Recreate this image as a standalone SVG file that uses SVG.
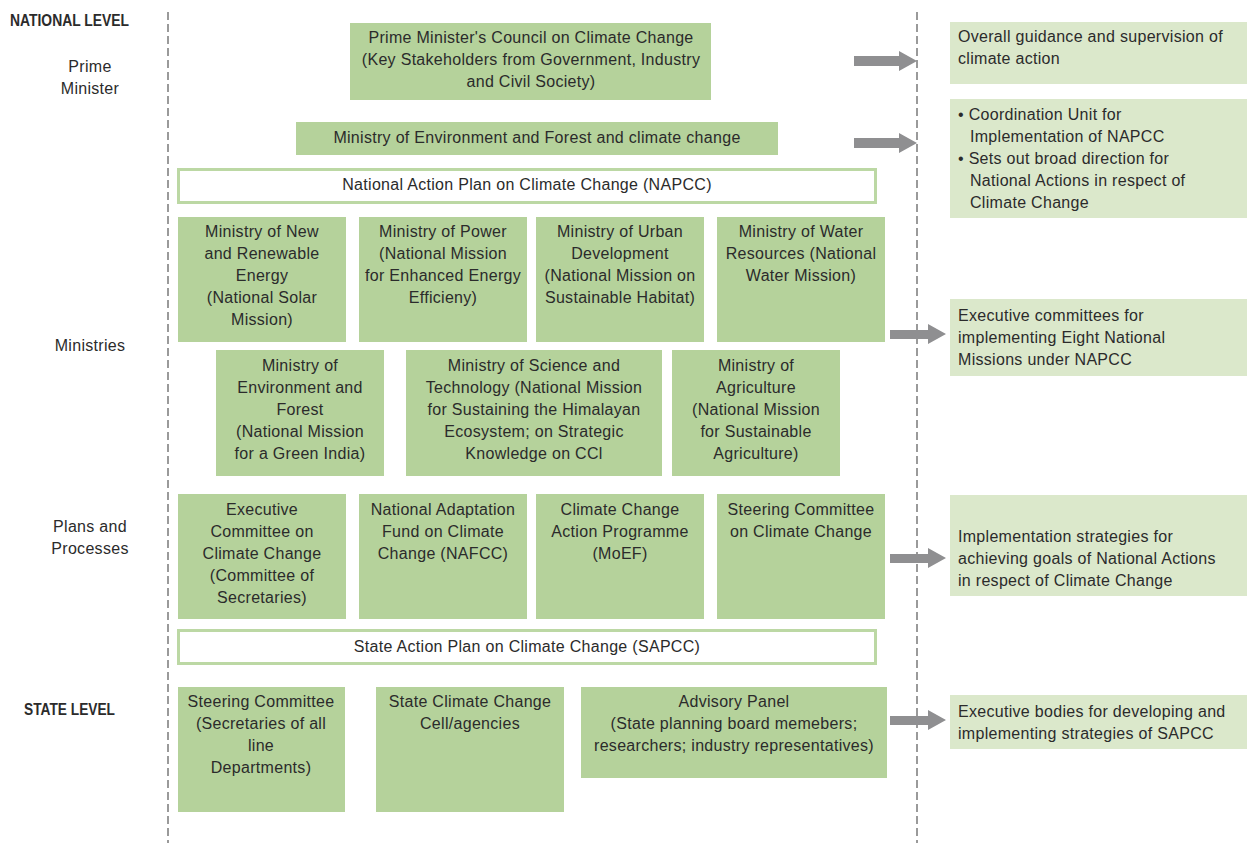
<svg xmlns="http://www.w3.org/2000/svg" width="1247" height="843" viewBox="0 0 1247 843">
<style>
.t{font-family:"Liberation Sans",Arial,sans-serif;font-size:16px;letter-spacing:0.3px;fill:#2b2b2b}
.c{text-anchor:middle}
.h{font-family:"Liberation Sans",Arial,sans-serif;font-size:16px;font-weight:bold;fill:#2b2b2b}
.dk{fill:#b5d29b}
.lt{fill:#dbe8cb}
.wb{fill:#ffffff;stroke:#bcd8a4;stroke-width:3}
.dash{stroke:#9a9a9a;stroke-width:2;stroke-dasharray:8 4;fill:none}
.ar{fill:#8f8f91}
</style>
<rect width="1247" height="843" fill="#ffffff"/>
<g id="guides">
<line class="dash" x1="168" y1="12" x2="168" y2="843"/>
<line class="dash" x1="917" y1="12" x2="917" y2="843"/>
</g>
<g id="labels">
<text class="h" x="10" y="26" textLength="119" lengthAdjust="spacingAndGlyphs">NATIONAL LEVEL</text>
<text class="t c" x="90" y="72">Prime</text>
<text class="t c" x="90" y="94">Minister</text>
<text class="t c" x="90" y="351">Ministries</text>
<text class="t c" x="90" y="532">Plans and</text>
<text class="t c" x="90" y="554">Processes</text>
<text class="h" x="24" y="715" textLength="91" lengthAdjust="spacingAndGlyphs">STATE LEVEL</text>
</g>
<g id="pmcc">
<rect class="dk" x="350" y="23" width="361" height="77"/>
<text class="t c" x="531" y="43">Prime Minister's Council on Climate Change</text>
<text class="t c" x="531" y="65">(Key Stakeholders from Government, Industry</text>
<text class="t c" x="531" y="87">and Civil Society)</text>
</g>
<g id="moefcc">
<rect class="dk" x="296" y="122" width="482" height="33"/>
<text class="t c" x="537" y="143">Ministry of Environment and Forest and climate change</text>
</g>
<g id="napcc">
<rect class="wb" x="178.5" y="169.5" width="697" height="33"/>
<text class="t c" x="527" y="190">National Action Plan on Climate Change (NAPCC)</text>
</g>
<g id="mnre">
<rect class="dk" x="178" y="217" width="168" height="125"/>
<text class="t c" x="262" y="237">Ministry of New</text>
<text class="t c" x="262" y="259">and Renewable</text>
<text class="t c" x="262" y="281">Energy</text>
<text class="t c" x="262" y="303">(National Solar</text>
<text class="t c" x="262" y="325">Mission)</text>
</g>
<g id="power">
<rect class="dk" x="359" y="217" width="168" height="125"/>
<text class="t c" x="443" y="237">Ministry of Power</text>
<text class="t c" x="443" y="259">(National Mission</text>
<text class="t c" x="443" y="281">for Enhanced Energy</text>
<text class="t c" x="443" y="303">Efficieny)</text>
</g>
<g id="urban">
<rect class="dk" x="536" y="217" width="168" height="125"/>
<text class="t c" x="620" y="237">Ministry of Urban</text>
<text class="t c" x="620" y="259">Development</text>
<text class="t c" x="620" y="281">(National Mission on</text>
<text class="t c" x="620" y="303">Sustainable Habitat)</text>
</g>
<g id="water">
<rect class="dk" x="717" y="217" width="168" height="125"/>
<text class="t c" x="801" y="237">Ministry of Water</text>
<text class="t c" x="801" y="259">Resources (National</text>
<text class="t c" x="801" y="281">Water Mission)</text>
</g>
<g id="moef">
<rect class="dk" x="216" y="350" width="168" height="126"/>
<text class="t c" x="300" y="371">Ministry of</text>
<text class="t c" x="300" y="393">Environment and</text>
<text class="t c" x="300" y="415">Forest</text>
<text class="t c" x="300" y="437">(National Mission</text>
<text class="t c" x="300" y="459">for a Green India)</text>
</g>
<g id="science">
<rect class="dk" x="406" y="350" width="256" height="126"/>
<text class="t c" x="534" y="371">Ministry of Science and</text>
<text class="t c" x="534" y="393">Technology (National Mission</text>
<text class="t c" x="534" y="415">for Sustaining the Himalayan</text>
<text class="t c" x="534" y="437">Ecosystem; on Strategic</text>
<text class="t c" x="534" y="459">Knowledge on CCl</text>
</g>
<g id="agri">
<rect class="dk" x="672" y="350" width="168" height="126"/>
<text class="t c" x="756" y="371">Ministry of</text>
<text class="t c" x="756" y="393">Agriculture</text>
<text class="t c" x="756" y="415">(National Mission</text>
<text class="t c" x="756" y="437">for Sustainable</text>
<text class="t c" x="756" y="459">Agriculture)</text>
</g>
<g id="ecc">
<rect class="dk" x="178" y="494" width="168" height="125"/>
<text class="t c" x="262" y="515">Executive</text>
<text class="t c" x="262" y="537">Committee on</text>
<text class="t c" x="262" y="559">Climate Change</text>
<text class="t c" x="262" y="581">(Committee of</text>
<text class="t c" x="262" y="603">Secretaries)</text>
</g>
<g id="nafcc">
<rect class="dk" x="359" y="494" width="168" height="125"/>
<text class="t c" x="443" y="515">National Adaptation</text>
<text class="t c" x="443" y="537">Fund on Climate</text>
<text class="t c" x="443" y="559">Change (NAFCC)</text>
</g>
<g id="ccap">
<rect class="dk" x="536" y="494" width="168" height="125"/>
<text class="t c" x="620" y="515">Climate Change</text>
<text class="t c" x="620" y="537">Action Programme</text>
<text class="t c" x="620" y="559">(MoEF)</text>
</g>
<g id="scc">
<rect class="dk" x="717" y="494" width="168" height="125"/>
<text class="t c" x="801" y="515">Steering Committee</text>
<text class="t c" x="801" y="537">on Climate Change</text>
</g>
<g id="sapcc">
<rect class="wb" x="178.5" y="630.5" width="697" height="33"/>
<text class="t c" x="527" y="652">State Action Plan on Climate Change (SAPCC)</text>
</g>
<g id="state-steering">
<rect class="dk" x="178" y="687" width="167" height="125"/>
<text class="t c" x="261" y="707">Steering Committee</text>
<text class="t c" x="261" y="729">(Secretaries of all</text>
<text class="t c" x="261" y="751">line</text>
<text class="t c" x="261" y="773">Departments)</text>
</g>
<g id="sccc">
<rect class="dk" x="376" y="687" width="188" height="125"/>
<text class="t c" x="470" y="707">State Climate Change</text>
<text class="t c" x="470" y="729">Cell/agencies</text>
</g>
<g id="advisory">
<rect class="dk" x="581" y="687" width="306" height="91"/>
<text class="t c" x="734" y="707">Advisory Panel</text>
<text class="t c" x="734" y="729">(State planning board memebers;</text>
<text class="t c" x="734" y="751">researchers; industry representatives)</text>
</g>
<g id="r1">
<rect class="lt" x="950" y="22" width="297" height="62"/>
<text class="t" x="958" y="42">Overall guidance and supervision of</text>
<text class="t" x="958" y="64">climate action</text>
</g>
<g id="r2">
<rect class="lt" x="950" y="99" width="297" height="119"/>
<text class="t" x="958" y="120">• Coordination Unit for</text>
<text class="t" x="970" y="142">Implementation of NAPCC</text>
<text class="t" x="958" y="164">• Sets out broad direction for</text>
<text class="t" x="970" y="186">National Actions in respect of</text>
<text class="t" x="970" y="208">Climate Change</text>
</g>
<g id="r3">
<rect class="lt" x="950" y="299" width="297" height="77"/>
<text class="t" x="958" y="321">Executive committees for</text>
<text class="t" x="958" y="343">implementing Eight National</text>
<text class="t" x="958" y="365">Missions under NAPCC</text>
</g>
<g id="r4">
<rect class="lt" x="950" y="495" width="297" height="101"/>
<text class="t" x="958" y="542">Implementation strategies for</text>
<text class="t" x="958" y="564">achieving goals of National Actions</text>
<text class="t" x="958" y="586">in respect of Climate Change</text>
</g>
<g id="r5">
<rect class="lt" x="950" y="695" width="297" height="54"/>
<text class="t" x="958" y="717">Executive bodies for developing and</text>
<text class="t" x="958" y="739">implementing strategies of SAPCC</text>
</g>
<g id="connectors">
<polygon class="ar" points="854,56 899,56 899,51 917,61 899,71 899,66 854,66"/>
<polygon class="ar" points="854,138 899,138 899,133 917,143 899,153 899,148 854,148"/>
<polygon class="ar" points="890,330 928,330 928,324 946,334 928,344 928,339 890,339"/>
<polygon class="ar" points="890,554 928,554 928,548 946,558 928,568 928,563 890,563"/>
<polygon class="ar" points="890,716 928,716 928,710 946,720 928,730 928,725 890,725"/>
</g>
</svg>
